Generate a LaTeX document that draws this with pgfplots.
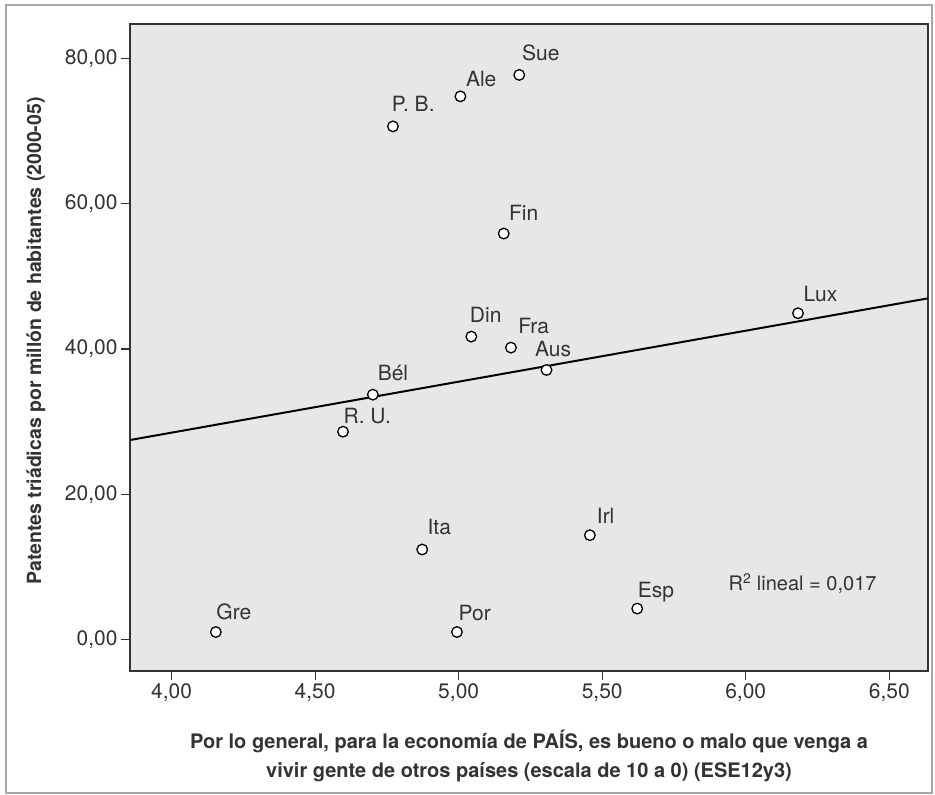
\documentclass[border=0pt]{standalone}
\usepackage{fontspec}
\setmainfont{TeX Gyre Heros}
\usepackage{pgfplots}
\pgfplotsset{compat=1.18}
\definecolor{plotbg}{HTML}{E6E7E8}
\definecolor{txt}{HTML}{333333}
\definecolor{framec}{HTML}{A8A8A8}

\pgfplotstableread{
x      y      label     dx    dy
5.211  77.75  Sue       2.3   14.3
5.006  74.80  Ale       5.0   9.7
4.771  70.66  {P. B.}  -1.7   14.7
5.157  55.90  Fin       4.7   12.7
6.182  44.92  Lux       5.0   11.3
5.044  41.70  Din      -2.0   13.7
5.182  40.18  Fra       6.7   13.7
5.306  37.10  Aus     -12.0   13.0
4.701  33.70  Bél       4.3   13.7
4.597  28.60  {R. U.}   0.0   8.0
4.873  12.37  Ita       4.7   15.3
5.457  14.34  Irl       6.4   12.0
5.622   4.23  Esp       0.0   11.3
4.154   1.00  Gre       0.0   12.7
4.994   1.00  Por       1.0   11.7
}\datatable

\begin{document}
\begin{tikzpicture}[x=1bp,y=1bp]
\fill[white] (0,0) rectangle (935,795);
\draw[framec, line width=2.5bp] (6,2) rectangle (932,790);
\begin{axis}[
  at={(130bp,124bp)}, anchor=south west,
  scale only axis, width=798bp, height=647bp,
  xmin=3.855, xmax=6.635, ymin=-4.37, ymax=84.77,
  axis background/.style={fill=plotbg},
  axis line style={txt, line width=1.3bp},
  xtick={4,4.5,5,5.5,6,6.5},
  ytick={0,20,40,60,80},
  tick align=outside,
  xtick pos=left, ytick pos=left,
  major tick length=9bp,
  tick style={txt, line width=1.2bp},
  /pgf/number format/.cd, fixed, fixed zerofill, precision=2, use comma, 1000 sep={}, assume math mode=true,
  /pgfplots/.cd,
  ticklabel style={font=\fontsize{21bp}{25bp}\selectfont, text=txt},
  xlabel={Por lo general, para la economía de PAÍS, es bueno o malo que venga a\\vivir gente de otros países (escala de 10 a 0) (ESE12y3)},
  xlabel style={at={(axis description cs:0.5,-0.091)}, anchor=north, align=center, inner sep=0pt,
    font=\fontsize{20bp}{29bp}\selectfont\bfseries, text=txt},
  ylabel={Patentes triádicas por millón de habitantes (2000-05)},
  ylabel style={at={(axis description cs:-0.1178,0.51)}, anchor=center, inner sep=0pt,
    font=\fontsize{19.5bp}{23bp}\selectfont\bfseries, text=txt},
  clip=true,
]
\addplot[black, line width=2bp, no marks] coordinates {(3.855,27.45) (6.635,46.97)};
\addplot[only marks, mark=*, mark size=5.3bp,
  mark options={fill=white, draw=black, line width=1.3bp},
  nodes near coords, point meta=explicit symbolic,
  visualization depends on={\thisrow{dx}\as\dx},
  visualization depends on={\thisrow{dy}\as\dy},
  every node near coord/.append style={anchor=base west, inner sep=0pt,
    xshift=\dx bp, yshift=\dy bp, font=\fontsize{21bp}{25bp}\selectfont, text=txt},
] table[x=x, y=y, meta=label] {\datatable};
\node[anchor=west, inner sep=0pt, font=\fontsize{20bp}{24bp}\selectfont, text=txt]
  at (axis cs:5.94,7.7) {R\textsuperscript{2} lineal = 0,017};
\end{axis}
\end{tikzpicture}
\end{document}
